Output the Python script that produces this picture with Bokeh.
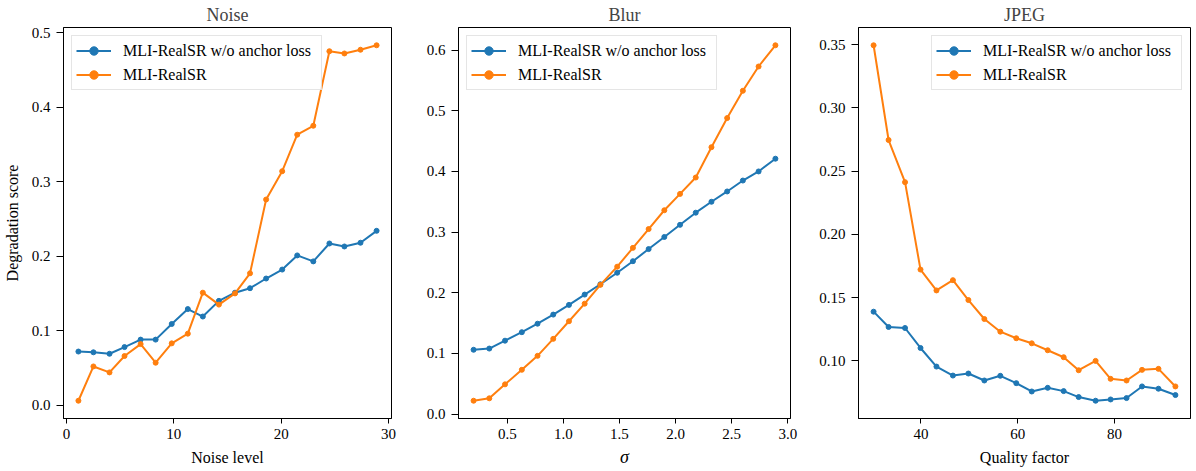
from bokeh.plotting import figure
from bokeh.layouts import row
from bokeh.models import Range1d, FixedTicker, PrintfTickFormatter
from bokeh.embed import file_html
from bokeh.resources import INLINE

series_names = ["MLI-RealSR w/o anchor loss", "MLI-RealSR"]
series_colors = ["#1f77b4", "#ff7f0e"]

# Noise panel
noise_x = [1.1, 2.5, 4.0, 5.4, 6.9, 8.3, 9.8, 11.3, 12.7, 14.2,
           15.7, 17.1, 18.6, 20.1, 21.5, 23.0, 24.5, 25.9, 27.4, 28.9]
noise_wo = [0.072, 0.071, 0.069, 0.078, 0.088, 0.088, 0.109, 0.129, 0.119, 0.140,
            0.151, 0.157, 0.170, 0.182, 0.201, 0.193, 0.217, 0.213, 0.218, 0.234]
noise_mli = [0.006, 0.052, 0.044, 0.066, 0.082, 0.057, 0.083, 0.096, 0.151, 0.135,
             0.150, 0.177, 0.276, 0.314, 0.363, 0.375, 0.475, 0.472, 0.477, 0.483]

# Blur panel
blur_x = [0.20, 0.34, 0.48, 0.63, 0.77, 0.91, 1.05, 1.19, 1.33, 1.48,
          1.62, 1.76, 1.90, 2.04, 2.18, 2.32, 2.46, 2.60, 2.74, 2.89]
blur_wo = [0.106, 0.108, 0.121, 0.135, 0.149, 0.164, 0.180, 0.197, 0.214, 0.233,
           0.252, 0.272, 0.292, 0.312, 0.332, 0.350, 0.367, 0.385, 0.400, 0.421]
blur_mli = [0.022, 0.026, 0.049, 0.073, 0.096, 0.124, 0.153, 0.182, 0.213, 0.243,
            0.274, 0.305, 0.336, 0.363, 0.390, 0.440, 0.488, 0.533, 0.573, 0.608]

# JPEG panel
jpeg_x = [30.2, 33.3, 36.7, 39.9, 43.2, 46.6, 49.8, 53.1, 56.4, 59.7,
          62.9, 66.2, 69.5, 72.6, 76.1, 79.2, 82.5, 85.7, 89.1, 92.6]
jpeg_wo = [0.1389, 0.1268, 0.1260, 0.1102, 0.0955, 0.0884, 0.0900, 0.0845, 0.0882, 0.0824,
           0.0758, 0.0787, 0.0761, 0.0714, 0.0685, 0.0695, 0.0706, 0.0798, 0.0780, 0.0730]
jpeg_mli = [0.3495, 0.2746, 0.2413, 0.1722, 0.1557, 0.1638, 0.1481, 0.1331, 0.1231, 0.1179,
            0.1139, 0.1084, 0.1029, 0.0926, 0.1000, 0.0858, 0.0845, 0.0929, 0.0937, 0.0798]

titles = ["Noise", "Blur", "JPEG"]
xlabels = ["Noise level", "\u03c3", "Quality factor"]
ylabel = "Degradation score"
noise_xticks = [0, 10, 20, 30]
noise_yticks = [0.0, 0.1, 0.2, 0.3, 0.4, 0.5]
blur_xticks = [0.5, 1.0, 1.5, 2.0, 2.5, 3.0]
blur_yticks = [0.0, 0.1, 0.2, 0.3, 0.4, 0.5, 0.6]
jpeg_xticks = [40, 60, 80]
jpeg_yticks = [0.10, 0.15, 0.20, 0.25, 0.30, 0.35]

FONT = "Liberation Serif"


def padded(vals):
    lo, hi = min(vals), max(vals)
    d = (hi - lo) * 0.05
    return lo - d, hi + d


def make_panel(title, x, ys, xlabel, ylab, xticks, yticks, xfmt, yfmt,
               legend_loc, width, mbl, mbr, italic_x=False):
    x0, x1 = padded(x)
    y0, y1 = padded(ys[0] + ys[1])
    p = figure(width=width, height=471, output_backend="svg", toolbar_location=None,
               x_range=Range1d(x0, x1), y_range=Range1d(y0, y1),
               min_border_left=mbl, min_border_right=mbr,
               min_border_top=27, min_border_bottom=53)
    p.title.text = title
    p.title.text_font = FONT
    p.title.text_font_size = "18px"
    p.title.text_font_style = "normal"
    p.title.align = "center"
    p.title.vertical_align = "top"
    p.title.standoff = 1
    p.title.offset = 0
    for name, col, yv in zip(series_names, series_colors, ys):
        p.line(x, yv, line_color=col, line_width=2.0, legend_label=name)
        p.scatter(x, yv, size=5, fill_color=col, line_color=col, legend_label=name)
    p.grid.visible = False
    p.outline_line_color = "black"
    p.outline_line_width = 1
    p.background_fill_color = "white"
    p.border_fill_color = "white"
    for ax in (p.xaxis[0], p.yaxis[0]):
        ax.major_tick_in = 0
        ax.minor_tick_out = 0
        ax.minor_tick_in = 0
        ax.major_tick_line_color = "black"
        ax.axis_line_color = "black"
        ax.major_label_text_font = FONT
        ax.major_label_text_font_size = "15px"
        ax.major_label_text_color = "black"
        ax.axis_label_text_font = FONT
        ax.axis_label_text_font_size = "16px"
        ax.axis_label_text_font_style = "normal"
        ax.axis_label_text_color = "black"
    xa, ya = p.xaxis[0], p.yaxis[0]
    xa.major_tick_out = 5
    xa.major_label_standoff = 5
    xa.axis_label_standoff = 7
    ya.major_tick_out = 7
    ya.major_label_standoff = 6
    ya.axis_label_standoff = 8
    xa.ticker = FixedTicker(ticks=xticks)
    ya.ticker = FixedTicker(ticks=yticks)
    xa.formatter = PrintfTickFormatter(format=xfmt)
    ya.formatter = PrintfTickFormatter(format=yfmt)
    xa.axis_label = xlabel
    if italic_x:
        xa.axis_label_text_font_style = "italic"
        xa.axis_label_text_font_size = "18px"
        xa.axis_label_standoff = 5
    if ylab:
        ya.axis_label = ylab
    lg = p.legend[0]
    lg.location = legend_loc
    lg.margin = 8
    lg.padding = 4
    lg.spacing = 3
    lg.glyph_width = 35
    lg.glyph_height = 21
    lg.label_height = 21
    lg.label_width = 194
    lg.label_standoff = 12
    lg.label_text_font = FONT
    lg.label_text_font_size = "16px"
    lg.label_text_color = "black"
    lg.border_line_color = "#cccccc"
    lg.border_line_width = 1
    lg.background_fill_alpha = 0.8
    return p


p1 = make_panel(titles[0], noise_x, [noise_wo, noise_mli], xlabels[0], ylabel,
                noise_xticks, noise_yticks, "%d", "%.1f", "top_left", 398, 60, 7)
p2 = make_panel(titles[1], blur_x, [blur_wo, blur_mli], xlabels[1], None,
                blur_xticks, blur_yticks, "%.1f", "%.1f", "top_left", 400, 60, 8,
                italic_x=True)
p3 = make_panel(titles[2], jpeg_x, [jpeg_wo, jpeg_mli], xlabels[2], None,
                jpeg_xticks, jpeg_yticks, "%d", "%.2f", "top_right", 398, 60, 6)

layout = row(p1, p2, p3, spacing=0)
open("out.html", "w").write(file_html(layout, INLINE))
